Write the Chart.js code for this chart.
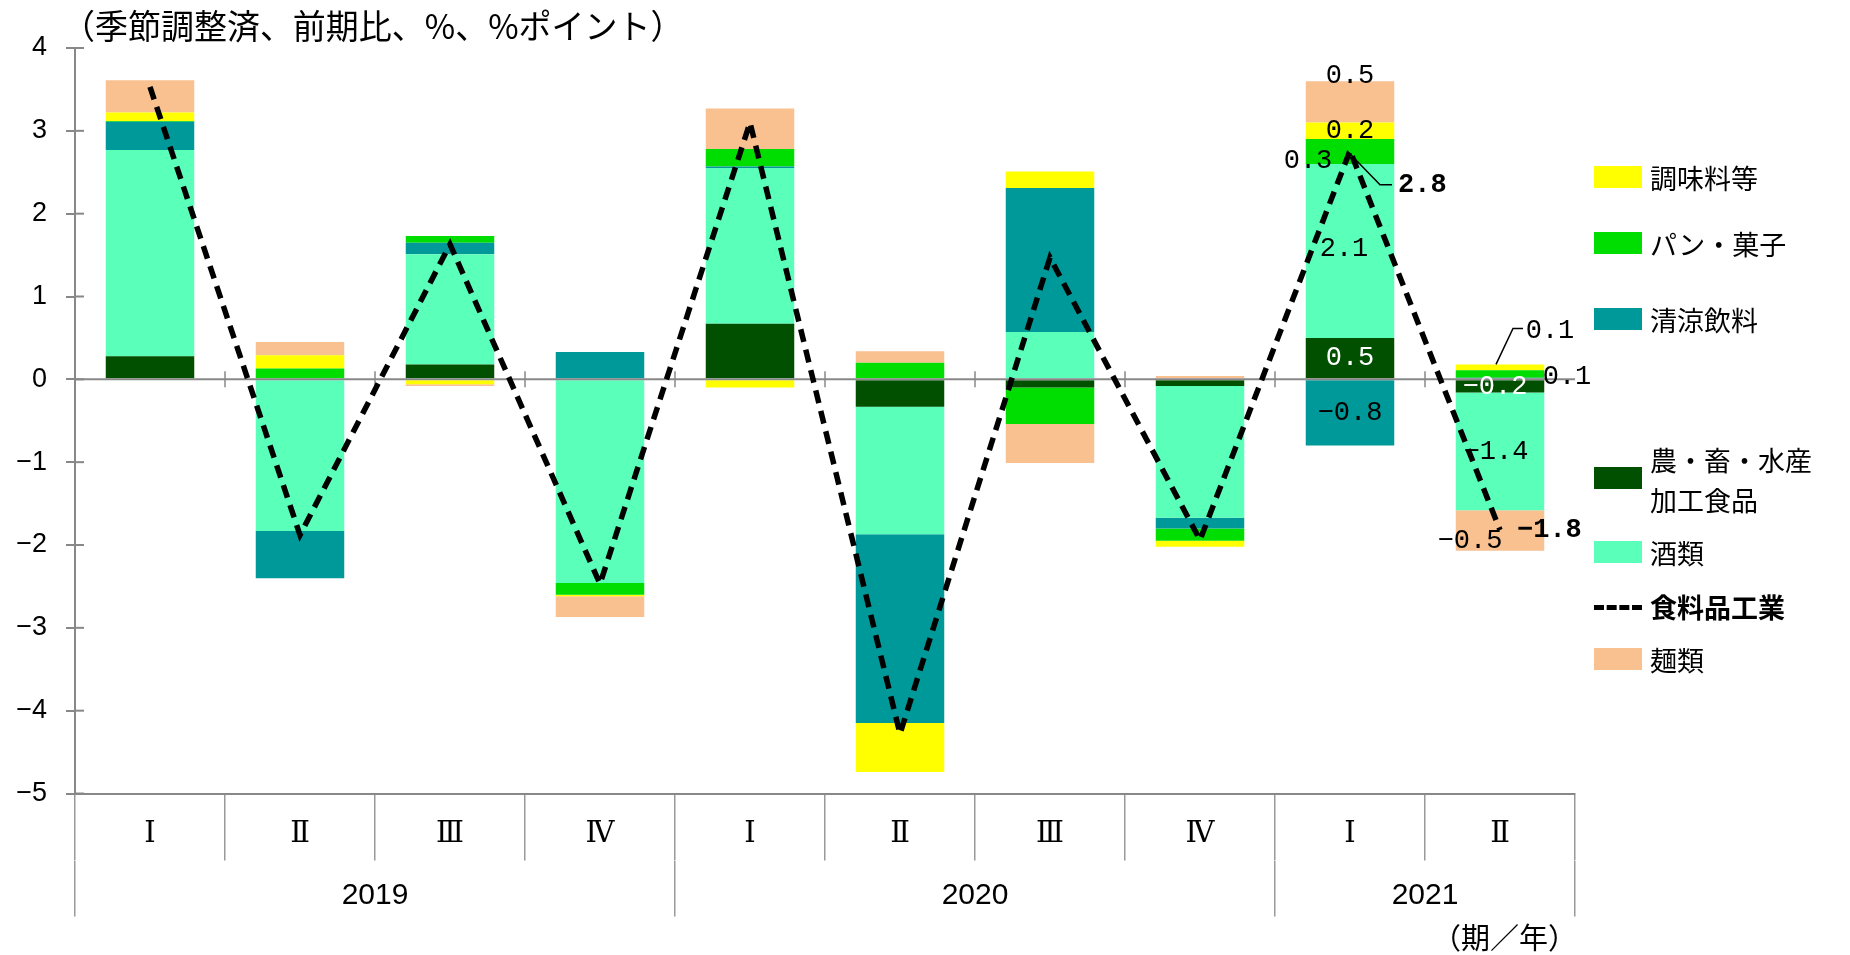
<!DOCTYPE html>
<html><head><meta charset="utf-8">
<script src="https://cdn.jsdelivr.net/npm/chart.js@4.4.1/dist/chart.umd.min.js"></script>
<style>
html,body{margin:0;padding:0;background:#fff;}
#wrap{position:relative;width:1850px;height:955px;overflow:hidden;}
canvas{position:absolute;left:0;top:0;}
.t{position:absolute;white-space:nowrap;color:#000;font-family:"Noto Sans CJK JP","Noto Sans",sans-serif;}
.sw{position:absolute;width:48px;height:22px;}
</style></head><body>
<div id="wrap">
<canvas id="c" width="1850" height="955"></canvas>
<div class="t" id="title" style="left:62px;top:0px;font-size:34px;transform:scaleX(0.97);transform-origin:left top;">（季節調整済、前期比、%、%ポイント）</div>
<div class="t" id="unit" style="left:1432px;top:915px;font-size:29px;">（期／年）</div>
</div>
<script>
// ---- data ----
const quarters = ['Ⅰ','Ⅱ','Ⅲ','Ⅳ','Ⅰ','Ⅱ','Ⅲ','Ⅳ','Ⅰ','Ⅱ'];
const years = ['2019','2020','2021'];
const yearSpans = [4,4,2];
const yTicks = [4,3,2,1,0,-1,-2,-3,-4,-5];

const seriesNames = ['農・畜・水産加工食品','酒類','清涼飲料','パン・菓子','調味料等','麺類'];
const agriFood   = [0.28, 0.00, 0.18, -0.01, 0.67, -0.33, -0.10, -0.08, 0.50, -0.16];
const alcohol    = [2.49, -1.83, 1.33, -2.45, 1.88, -1.54, 0.57, -1.59, 2.10, -1.42];
const softDrinks = [0.34, -0.57, 0.14, 0.33, 0.02, -2.28, 1.74, -0.13, -0.80, 0.02];
const breadSweets= [0.01, 0.13, 0.08, -0.14, 0.21, 0.20, -0.44, -0.15, 0.30, 0.09];
const seasonings = [0.10, 0.16, -0.06, -0.02, -0.10, -0.59, 0.20, -0.07, 0.20, 0.07];
const noodles    = [0.39, 0.16, -0.02, -0.25, 0.49, 0.14, -0.47, 0.04, 0.50, -0.49];
const lineName = '食料品工業';
const foodIndustry = [3.53, -1.88, 1.63, -2.47, 3.10, -4.28, 1.47, -1.94, 2.76, -1.82];

const seriesColors = ['#005000','#5AFFBA','#009999','#00DD00','#FFFF00','#F9C190'];
const seriesValues = [agriFood, alcohol, softDrinks, breadSweets, seasonings, noodles];

// ---- year axis helpers ----
const yearBounds = [-0.5];
const yearCenters = [];
yearSpans.forEach((s,i)=>{const a=yearBounds[i]; yearBounds.push(a+s); yearCenters.push(a+s/2);});
const x2TickValues = yearBounds.concat(yearCenters).sort((a,b)=>a-b);

const fmt = v => { const s = Math.abs(v).toFixed(1); return (v < 0 ? '−' : '') + s; };

// ---- plugins ----
const axisMarks = {
  id:'axisMarks',
  beforeDatasetDraw(chart, args){
    if (args.index !== 6) return;
    const {ctx, scales:{x,y}} = chart;
    ctx.save();
    ctx.strokeStyle = '#888'; ctx.lineWidth = 2;
    const z = y.getPixelForValue(0);
    ctx.beginPath(); ctx.moveTo(x.left, z); ctx.lineTo(x.right, z); ctx.stroke();
    const w = (x.right - x.left) / quarters.length;
    ctx.lineWidth = 1.5;
    for (let i=1;i<quarters.length;i++){
      const px = x.left + i*w;
      ctx.beginPath(); ctx.moveTo(px, z-8); ctx.lineTo(px, z+8); ctx.stroke();
    }
    ctx.lineWidth = 2;
    yTicks.forEach(v=>{const py=y.getPixelForValue(v); ctx.beginPath(); ctx.moveTo(x.left, py); ctx.lineTo(x.left+9, py); ctx.stroke();});
    ctx.restore();
  }
};

// label annotations for the last two quarters
const labelSpecs = [
  {ds:5,i:8,dx:0,dy:-5,anchor:'top'},
  {ds:4,i:8,dx:0,dy:0,anchor:'mid'},
  {ds:3,i:8,dx:-42,dy:9,anchor:'mid'},
  {ds:1,i:8,dx:-6,dy:-2,anchor:'mid'},
  {ds:0,i:8,dx:0,dy:0,anchor:'mid',color:'#fff'},
  {ds:2,i:8,dx:0,dy:0,anchor:'mid'},
  {ds:6,i:8,dx:48,dy:34,anchor:'pt',bold:true,align:'left',leader:[[-3,0],[30,34],[42,34]]},
  {ds:4,i:9,dx:50,dy:-34,anchor:'top',leader:[[-4,0],[13,-36],[23,-36]]},
  {ds:3,i:9,dx:67,dy:3,anchor:'mid'},
  {ds:0,i:9,dx:-5,dy:0,anchor:'mid',color:'#fff'},
  {ds:1,i:9,dx:-4,dy:0,anchor:'mid'},
  {ds:5,i:9,dx:-30,dy:10,anchor:'mid'},
  {ds:6,i:9,dx:17,dy:0,anchor:'pt',bold:true,align:'left'}
];
const dataLabels = {
  id:'dataLabels',
  afterDatasetsDraw(chart){
    const ctx = chart.ctx;
    ctx.save();
    labelSpecs.forEach(s=>{
      const meta = chart.getDatasetMeta(s.ds);
      const el = meta.data[s.i];
      const v = chart.data.datasets[s.ds].data[s.i];
      let bx = el.x, by;
      if (s.anchor === 'mid') by = (el.y + el.base)/2;
      else by = el.y;
      if (s.leader){
        ctx.strokeStyle = '#000'; ctx.lineWidth = 1.5;
        ctx.beginPath();
        s.leader.forEach((p,k)=>{ const fn = k ? 'lineTo':'moveTo'; ctx[fn](bx+p[0], by+p[1]); });
        ctx.stroke();
      }
      ctx.fillStyle = s.color || '#000';
      ctx.font = (s.bold ? 'bold ' : '') + '27px "Liberation Mono", "DejaVu Sans Mono", monospace';
      ctx.textAlign = s.align || 'center';
      ctx.textBaseline = 'middle';
      ctx.fillText(fmt(v), bx + s.dx, by + s.dy);
    });
    ctx.restore();
  }
};

// ---- chart ----
const datasets = seriesNames.map((n,k)=>({
  type:'bar', label:n, data:seriesValues[k], backgroundColor:seriesColors[k],
  borderWidth:0, order:1, stack:'s', barPercentage:0.59, categoryPercentage:1.0
}));
datasets.push({
  type:'line', label:lineName, data:foodIndustry, borderColor:'#000', borderWidth:5.5,
  borderDash:[13,8], pointRadius:0, tension:0, fill:false, order:0, stack:'line'
});

new Chart(document.getElementById('c'), {
  data:{labels:quarters, datasets},
  options:{
    responsive:false, animation:false, devicePixelRatio:1,
    layout:{padding:{left:0,right:275,top:48,bottom:38}},
    plugins:{legend:{display:false}, tooltip:{enabled:false}},
    scales:{
      x:{
        type:'category', stacked:true, offset:true,
        afterFit:s=>{s.height=67;},
        grid:{offset:true, drawOnChartArea:false, tickLength:67, color:'#999', lineWidth:1.5},
        border:{color:'#888', width:2},
        ticks:{padding:-43, color:'#000', autoSkip:false, maxRotation:0,
               font:{family:'"DejaVu Serif", "Liberation Serif", serif', size:29}}
      },
      x2:{
        type:'linear', position:'bottom', min:-0.5, max:9.5,
        afterFit:s=>{s.height=56.5;},
        afterBuildTicks:s=>{s.ticks = x2TickValues.map(v=>({value:v}));},
        grid:{drawOnChartArea:false, tickLength:56, lineWidth:1.5,
              color:c=> (c.tick && yearBounds.includes(c.tick.value)) ? '#999' : 'rgba(0,0,0,0)'},
        border:{display:false},
        ticks:{padding:-39, color:'#000', autoSkip:false, maxRotation:0,
               font:{family:'"Liberation Sans Narrow", "Liberation Sans", sans-serif', size:30},
               callback:v=>{const k=yearCenters.indexOf(v); return k>=0?years[k]:'';}}
      },
      y:{
        stacked:true, min:-5, max:4,
        afterFit:s=>{s.width=75;},
        afterBuildTicks:s=>{s.ticks = yTicks.map(v=>({value:v}));},
        grid:{color:'rgba(0,0,0,0)', tickColor:'#888', tickLength:9, lineWidth:2},
        border:{color:'#888', width:2},
        ticks:{padding:19, color:'#000', font:{family:'"Liberation Sans", Arial, sans-serif', size:27},
               callback:v=>String(v).replace('-','−')}
      }
    }
  },
  plugins:[axisMarks, dataLabels]
});

// ---- legend (HTML) ----
const legendOrder = [4,3,2,0,1,'line',5];
const legendNames = {0:'農・畜・水産<br>加工食品'};
const legendY = [177,243,319,478,552,607,659];
const wrap = document.getElementById('wrap');
legendOrder.forEach((k,j)=>{
  const cy = legendY[j];
  if (k === 'line'){
    const d = document.createElement('div');
    d.style.cssText = 'position:absolute;left:1594px;top:'+(cy-2)+'px;width:48px;height:0;border-top:5px dashed #000;';
    wrap.appendChild(d);
    const t = document.createElement('div');
    t.className='t'; t.style.cssText += 'left:1650px;top:'+(cy-19)+'px;font-size:27px;font-weight:bold;line-height:38px;';
    t.textContent = lineName; wrap.appendChild(t);
    return;
  }
  const sw = document.createElement('div');
  sw.className='sw'; sw.style.left='1594px'; sw.style.top=(cy-11)+'px'; sw.style.background=seriesColors[k];
  wrap.appendChild(sw);
  const t = document.createElement('div');
  t.className='t';
  const two = legendNames[k] !== undefined;
  t.style.cssText += 'left:1650px;top:'+(cy-(two?38:19))+'px;font-size:27px;line-height:40px;';
  t.innerHTML = two ? legendNames[k] : seriesNames[k];
  wrap.appendChild(t);
});
</script>
</body></html>
